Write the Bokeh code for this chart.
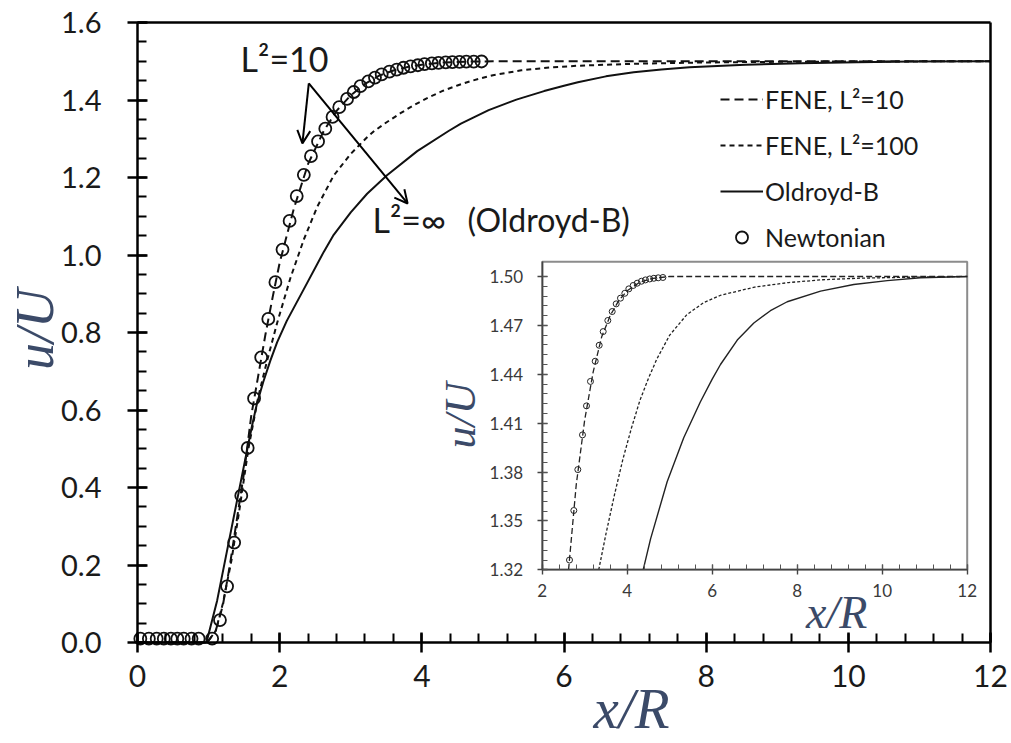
import numpy as np
from bokeh.plotting import figure
from bokeh.models import (Range1d, LinearAxis, FixedTicker, PrintfTickFormatter, Label,
                          Arrow, OpenHead, Legend, LegendItem)
from bokeh.embed import file_html
from bokeh.resources import INLINE

# ---------------- data ----------------
# Newtonian (open circles)
newt_x = [0.04, 0.16, 0.27, 0.37, 0.47, 0.56, 0.65, 0.76, 0.86, 1.05,
          1.16, 1.26, 1.36, 1.46, 1.55, 1.64, 1.74, 1.84, 1.94, 2.04,
          2.14, 2.24, 2.34, 2.44, 2.54, 2.642, 2.744, 2.838, 2.948, 3.042,
          3.136, 3.247, 3.341, 3.435, 3.544, 3.647, 3.741, 3.842, 3.944, 4.038,
          4.141, 4.235, 4.336, 4.43, 4.53, 4.626, 4.73, 4.84]
newt_y = [0.01, 0.01, 0.01, 0.01, 0.01, 0.01, 0.01, 0.01, 0.01, 0.01,
          0.058, 0.145, 0.258, 0.379, 0.502, 0.63, 0.736, 0.835, 0.93, 1.014,
          1.088, 1.152, 1.207, 1.255, 1.293, 1.326, 1.3564, 1.3815, 1.4028, 1.4206,
          1.4356, 1.448, 1.4578, 1.4662, 1.473, 1.4785, 1.4832, 1.4867, 1.4897, 1.4924,
          1.4945, 1.4959, 1.4971, 1.4979, 1.4985, 1.4989, 1.4992, 1.4994]

# FENE, L^2 = 10 (long dashes)
fene10_x = [0, 0.98, 1.1, 1.2, 1.3, 1.4, 1.5, 1.6, 1.7, 1.8, 1.9, 2.0, 2.2, 2.4, 2.62,
            2.8, 3.0, 3.2, 3.4, 3.6, 3.8, 4.0, 4.3, 4.6, 5.0, 6.0, 8.0, 10.0, 12.0]
fene10_y = [0, 0, 0.03, 0.095, 0.2, 0.32, 0.44, 0.585, 0.69, 0.795, 0.89, 0.98, 1.12, 1.235, 1.32,
            1.372, 1.412, 1.4415, 1.463, 1.476, 1.4852, 1.4912, 1.4966, 1.4988, 1.5, 1.5, 1.5, 1.5, 1.5]

# FENE, L^2 = 100 (short dashes)
fene100_x = [0, 0.98, 1.1, 1.2, 1.32, 1.44, 1.56, 1.7, 1.82, 1.965, 2.15, 2.34, 2.53, 2.76, 3.0,
             3.23, 3.33, 3.5, 3.7, 3.9, 4.1, 4.3, 4.5, 4.7, 5.0, 5.4, 5.8, 6.2, 7.0, 7.8,
             8.6, 9.4, 10.5, 12.0]
fene100_y = [0, 0, 0.03, 0.1, 0.21, 0.35, 0.5, 0.635, 0.725, 0.825, 0.94, 1.04, 1.125, 1.205, 1.261,
             1.304, 1.32, 1.342, 1.366, 1.388, 1.407, 1.424, 1.4375, 1.4495, 1.464, 1.4765, 1.484, 1.4885, 1.4935, 1.4963,
             1.498, 1.4989, 1.4995, 1.5]

# Oldroyd-B (solid)
old_x = [0, 0.97, 1.12, 1.26, 1.40, 1.54, 1.61, 1.68, 1.77, 1.87, 1.965, 2.1, 2.34, 2.62, 2.76,
         3.0, 3.23, 3.51, 3.935, 4.376, 4.55, 4.94, 5.33, 5.72, 6.0, 6.195, 6.59, 6.98, 7.37,
         7.765, 8.55, 9.33, 10.12, 10.9, 12.0]
old_y = [0, 0, 0.108, 0.237, 0.366, 0.495, 0.558, 0.616, 0.673, 0.728, 0.775, 0.83, 0.912, 1.008, 1.052,
         1.11, 1.158, 1.206, 1.268, 1.32, 1.339, 1.374, 1.401, 1.423, 1.437, 1.446, 1.461, 1.4715, 1.479,
         1.4845, 1.491, 1.4951, 1.4975, 1.4992, 1.5]

# ticks
main_x_ticks = [0, 2, 4, 6, 8, 10, 12]
main_y_ticks = [0.0, 0.2, 0.4, 0.6, 0.8, 1.0, 1.2, 1.4, 1.6]
inset_x_ticks = [2, 4, 6, 8, 10, 12]
inset_y_ticks = [1.32, 1.35, 1.38, 1.41, 1.44, 1.47, 1.50]

# axis windows (data)
MAIN_X = (0.0, 12.0)
MAIN_Y = (0.0, 1.6)
INSET_X = (2.0, 12.0)
INSET_Y = (1.32, 1.509)

# ---------------- layout (the plotting frame fills the whole canvas) ----------------
W, H = 1011, 743
AX_L, AX_R, AX_T, AX_B = 137, 990, 22, 642                 # px of the main box edges
IX0, IX1, IY_TOP_TICK, IY0 = 541.7, 966.7, 276.0, 569.3    # inset: px of x=2, x=12, y=1.50, y=1.32

msx = (AX_R - AX_L) / (MAIN_X[1] - MAIN_X[0])
msy = (AX_B - AX_T) / (MAIN_Y[1] - MAIN_Y[0])
main_x_range = Range1d(MAIN_X[0] - AX_L / msx, MAIN_X[1] + (W - AX_R) / msx)
main_y_range = Range1d(MAIN_Y[0] - (H - AX_B) / msy, MAIN_Y[1] + AX_T / msy)

isx = (IX1 - IX0) / (INSET_X[1] - INSET_X[0])
isy = (IY0 - IY_TOP_TICK) / (1.50 - 1.32)
ix_range = Range1d(INSET_X[0] - IX0 / isx, INSET_X[1] + (W - IX1) / isx)
iy_range = Range1d(1.32 - (H - IY0) / isy, 1.50 + IY_TOP_TICK / isy)

TXT = "#1a1a1a"
FONT = "Lato"
SERIF = "Liberation Serif"
LBL_BLUE = "#3b4a68"

p = figure(width=W, height=H, output_backend="svg", toolbar_location=None,
           x_range=main_x_range, y_range=main_y_range,
           x_axis_type=None, y_axis_type=None,
           min_border_left=0, min_border_right=0, min_border_top=0, min_border_bottom=0)
p.background_fill_color = "white"
p.border_fill_color = "white"
p.outline_line_color = None
p.extra_x_ranges = {"ix": ix_range}
p.extra_y_ranges = {"iy": iy_range}

# main axes (pinned inside the frame)
xax = LinearAxis(fixed_location=MAIN_Y[0], bounds=MAIN_X,
                 ticker=FixedTicker(ticks=main_x_ticks, minor_ticks=list(np.arange(0, 12.001, 0.4))),
                 formatter=PrintfTickFormatter(format="%d"))
yax = LinearAxis(fixed_location=MAIN_X[0], bounds=MAIN_Y,
                 ticker=FixedTicker(ticks=main_y_ticks, minor_ticks=list(np.arange(0, 1.6001, 0.05))),
                 formatter=PrintfTickFormatter(format="%.1f"))
for ax in (xax, yax):
    ax.axis_line_width = 2.5
    ax.axis_line_color = "black"
    ax.major_tick_line_width = 2.5
    ax.minor_tick_line_width = 2.0
    ax.major_tick_in = 10
    ax.major_tick_out = 10
    ax.minor_tick_in = 9
    ax.minor_tick_out = 0
    ax.major_label_text_font = FONT
    ax.major_label_text_color = TXT
xax.major_label_text_font_size = "30px"
xax.major_label_standoff = 12
yax.major_label_text_font_size = "29px"
yax.major_label_standoff = 26
p.add_layout(xax, "below")
p.add_layout(yax, "left")

# top and right borders of the main box (bare axes)
top_ax = LinearAxis(fixed_location=MAIN_Y[1], ticker=FixedTicker(ticks=[]), bounds=MAIN_X)
right_ax = LinearAxis(fixed_location=MAIN_X[1], ticker=FixedTicker(ticks=[]), bounds=MAIN_Y)
for ax in (top_ax, right_ax):
    ax.axis_line_width = 2.5
    ax.axis_line_color = "black"
    ax.major_tick_in = 0
    ax.major_tick_out = 0
    ax.minor_tick_in = 0
    ax.minor_tick_out = 0
    ax.major_label_text_alpha = 0
p.add_layout(top_ax, "above")
p.add_layout(right_ax, "right")

# main curves
r10 = p.line(fene10_x, fene10_y, line_color="#111111", line_width=2, line_dash="9 5")
r100 = p.line(fene100_x, fene100_y, line_color="#111111", line_width=2, line_dash="5 4")
rold = p.line(old_x, old_y, line_color="#111111", line_width=2)
rnew = p.scatter(newt_x, newt_y, marker="circle", size=12, fill_alpha=0,
                 line_color="#111111", line_width=1.8)

# main axis titles
p.add_layout(Label(x=6.95, y=MAIN_Y[0] - 66 / msy, text="x/R",
                   text_font=SERIF, text_font_style="italic", text_font_size="57px",
                   text_color=LBL_BLUE, text_align="center", text_baseline="middle"))
p.add_layout(Label(x=MAIN_X[0] - 103 / msx, y=0.8077, text="u/U", angle=np.pi / 2,
                   text_font=SERIF, text_font_style="italic", text_font_size="54px",
                   text_color=LBL_BLUE, text_align="center", text_baseline="middle"))

# ---------------- inset ----------------
p.quad(left=[INSET_X[0]], right=[INSET_X[1]], bottom=[INSET_Y[0]], top=[INSET_Y[1]],
       fill_color="white", line_color="#8c8c8c", line_width=2,
       x_range_name="ix", y_range_name="iy")


def inset_part(xs, ys):
    xs = np.asarray(xs, dtype=float)
    ys = np.asarray(ys, dtype=float)
    m = (ys >= INSET_Y[0] - 1e-9) & (xs >= INSET_X[0]) & (xs <= INSET_X[1])
    return xs[m], ys[m]


ax_, ay_ = inset_part(fene10_x, fene10_y)
p.line(ax_, ay_, line_color="#222222", line_width=1.3, line_dash="6 3", x_range_name="ix", y_range_name="iy")
ax_, ay_ = inset_part(fene100_x, fene100_y)
p.line(ax_, ay_, line_color="#222222", line_width=1.3, line_dash="3 2", x_range_name="ix", y_range_name="iy")
ax_, ay_ = inset_part(old_x, old_y)
p.line(ax_, ay_, line_color="#222222", line_width=1.4, x_range_name="ix", y_range_name="iy")
ax_, ay_ = inset_part(newt_x, newt_y)
p.scatter(ax_, ay_, marker="circle", size=6, fill_alpha=0, line_color="#222222", line_width=1,
          x_range_name="ix", y_range_name="iy")

ixax = LinearAxis(x_range_name="ix", y_range_name="iy", fixed_location=INSET_Y[0], bounds=INSET_X,
                  ticker=FixedTicker(ticks=inset_x_ticks, minor_ticks=list(np.arange(2, 12.001, 0.4))),
                  formatter=PrintfTickFormatter(format="%d"))
iyax = LinearAxis(x_range_name="ix", y_range_name="iy", fixed_location=INSET_X[0], bounds=INSET_Y,
                  ticker=FixedTicker(ticks=inset_y_ticks, minor_ticks=list(np.arange(1.32, 1.5001, 0.006))),
                  formatter=PrintfTickFormatter(format="%.2f"))
for ax in (ixax, iyax):
    ax.axis_line_width = 1.6
    ax.axis_line_color = "#444444"
    ax.major_tick_line_color = "#444444"
    ax.minor_tick_line_color = "#555555"
    ax.major_tick_line_width = 1.4
    ax.minor_tick_line_width = 1.0
    ax.major_tick_in = 5
    ax.major_tick_out = 5
    ax.minor_tick_in = 5
    ax.minor_tick_out = 0
    ax.major_label_text_font = FONT
    ax.major_label_text_font_size = "17px"
    ax.major_label_text_color = "#3a3a3a"
ixax.major_label_standoff = 9
iyax.major_label_standoff = 14
p.add_layout(ixax, "below")
p.add_layout(iyax, "left")

p.add_layout(Label(x=8.93, y=1.2938, x_range_name="ix", y_range_name="iy", text="x/R",
                   text_font=SERIF, text_font_style="italic", text_font_size="46px",
                   text_color=LBL_BLUE, text_align="center", text_baseline="middle"))
p.add_layout(Label(x=0.08, y=1.4147, x_range_name="ix", y_range_name="iy", text="u/U", angle=np.pi / 2,
                   text_font=SERIF, text_font_style="italic", text_font_size="44px",
                   text_color=LBL_BLUE, text_align="center", text_baseline="middle"))

# ---------------- annotations ----------------
p.add_layout(Label(x=1.45, y=1.507, text="L²=10", text_font=FONT, text_font_size="34px",
                   text_color=TXT, text_baseline="alphabetic"))
p.add_layout(Label(x=3.306, y=1.092, text="L²=∞", text_font=FONT, text_font_size="34px",
                   text_color=TXT, text_baseline="alphabetic"))
p.add_layout(Label(x=4.643, y=1.092, text="(Oldroyd-B)", text_font=FONT, text_font_size="32px",
                   text_color=TXT, text_baseline="alphabetic"))
p.add_layout(Arrow(end=OpenHead(size=13, line_width=2), x_start=2.41, y_start=1.443,
                   x_end=2.32, y_end=1.288, line_width=2))
p.add_layout(Arrow(end=OpenHead(size=13, line_width=2), x_start=2.41, y_start=1.443,
                   x_end=3.80, y_end=1.133, line_width=2))

# ---------------- legend ----------------
legend = Legend(items=[LegendItem(label="FENE, L²=10", renderers=[r10]),
                       LegendItem(label="FENE, L²=100", renderers=[r100]),
                       LegendItem(label="Oldroyd-B", renderers=[rold]),
                       LegendItem(label="Newtonian", renderers=[rnew])],
                location=(720, H - 252), orientation="vertical",
                glyph_width=43, glyph_height=30, label_height=30, label_standoff=2,
                spacing=16, padding=0, margin=0,
                label_text_font=FONT, label_text_font_size="25px", label_text_color=TXT,
                border_line_alpha=0, background_fill_alpha=0)
p.add_layout(legend)

open("out.html", "w").write(file_html(p, INLINE))
